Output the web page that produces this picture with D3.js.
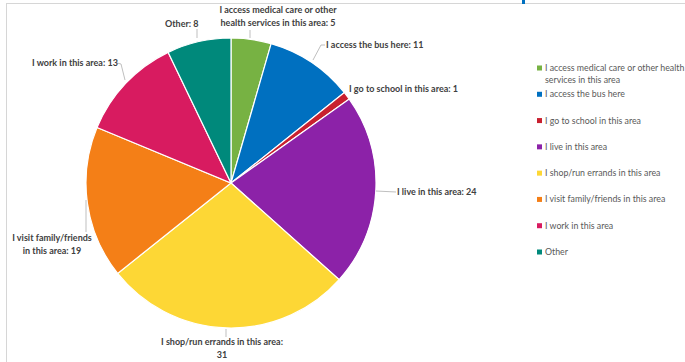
<!DOCTYPE html>
<html><head><meta charset="utf-8">
<script src="https://cdn.jsdelivr.net/npm/d3@7"></script>
<style>body{margin:0;background:#fff}svg{display:block}</style>
</head><body>
<svg id="c" width="685" height="362"></svg>
<script>
const categories = ["I access medical care or other health services in this area","I access the bus here","I go to school in this area","I live in this area","I shop/run errands in this area","I visit family/friends in this area","I work in this area","Other"];
const values = [5, 11, 1, 24, 31, 19, 13, 8];
const colors = ["#77b243","#0070c0","#c8202f","#8c22a8","#fdd735","#f47f17","#d81b60","#00897b"];
const dataLabels = [
  ["I access medical care or other","health services in this area: 5"],
  ["I access the bus here: 11"],
  ["I go to school in this area: 1"],
  ["I live in this area: 24"],
  ["I shop/run errands in this area:","31"],
  ["I visit family/friends","in this area: 19"],
  ["I work in this area: 13"],
  ["Other: 8"]
];
const legendLines = [
  ["I access medical care or other health","services in this area"],
  ["I access the bus here"],["I go to school in this area"],["I live in this area"],
  ["I shop/run errands in this area"],["I visit family/friends in this area"],["I work in this area"],["Other"]
];

const svg = d3.select("#c");
const FONT = "'Lato','Liberation Sans',sans-serif";
// frame
svg.append("line").attr("x1",6).attr("y1",3.5).attr("x2",685).attr("y2",3.5).attr("stroke","#d6d6d6");
svg.append("line").attr("x1",6.5).attr("y1",3).attr("x2",6.5).attr("y2",362).attr("stroke","#d6d6d6");
svg.append("rect").attr("x",522).attr("y",0).attr("width",3).attr("height",4).attr("fill","#0070c0");

const cx = 231, cy = 183, R = 145;
const pie = d3.pie().sort(null).value(d => d)(values);
const arc = d3.arc().innerRadius(0).outerRadius(R);
const g = svg.append("g").attr("transform",`translate(${cx},${cy})`);
g.selectAll("path").data(pie).join("path")
  .attr("d", arc).attr("fill",(d,i)=>colors[i]).attr("stroke","#fff").attr("stroke-width",1.2);

const labelPos = [
  {x:278, y:13, anchor:"middle", lead:[[250,30],[250,38]]},
  {x:326, y:48, anchor:"start", lead:[[325,45],[321,45],[313,60]]},
  {x:349, y:92, anchor:"start", lead:null},
  {x:397, y:195, anchor:"start", lead:[[376,191],[396,192]]},
  {x:222, y:345, anchor:"middle", lead:[[226,329],[226,337]]},
  {x:52, y:241, anchor:"middle", lead:[[86,200],[86,232]]},
  {x:32, y:66, anchor:"start", lead:[[117,63],[121,64],[125,80]]},
  {x:165, y:27, anchor:"start", lead:[[197,29],[197,38]]}
];
const line = d3.line();
labelPos.forEach((p,i)=>{
  if(p.lead) svg.append("path").attr("d",line(p.lead)).attr("fill","none").attr("stroke","#bfbfbf").attr("stroke-width",1);
  const t = svg.append("text").attr("x",p.x).attr("y",p.y).attr("text-anchor",p.anchor)
    .attr("font-family",FONT).attr("font-weight","bold").attr("font-size",9).attr("fill","#404040");
  dataLabels[i].forEach((s,j)=>t.append("tspan").attr("x",p.x).attr("dy",j?13:0).text(s));
});

const ly = d3.scalePoint().domain(d3.range(categories.length)).range([71,255]);
const lg = svg.append("g");
categories.forEach((c,i)=>{
  const y = ly(i);
  lg.append("rect").attr("x",537).attr("y",y-5.5).attr("width",5).attr("height",5).attr("fill",colors[i]);
  const t = lg.append("text").attr("x",545).attr("y",y).attr("font-family",FONT).attr("font-size",8.8).attr("fill","#595959");
  legendLines[i].forEach((s,j)=>t.append("tspan").attr("x",545).attr("dy",j?11.5:0).text(s));
});
</script>
</body></html>
